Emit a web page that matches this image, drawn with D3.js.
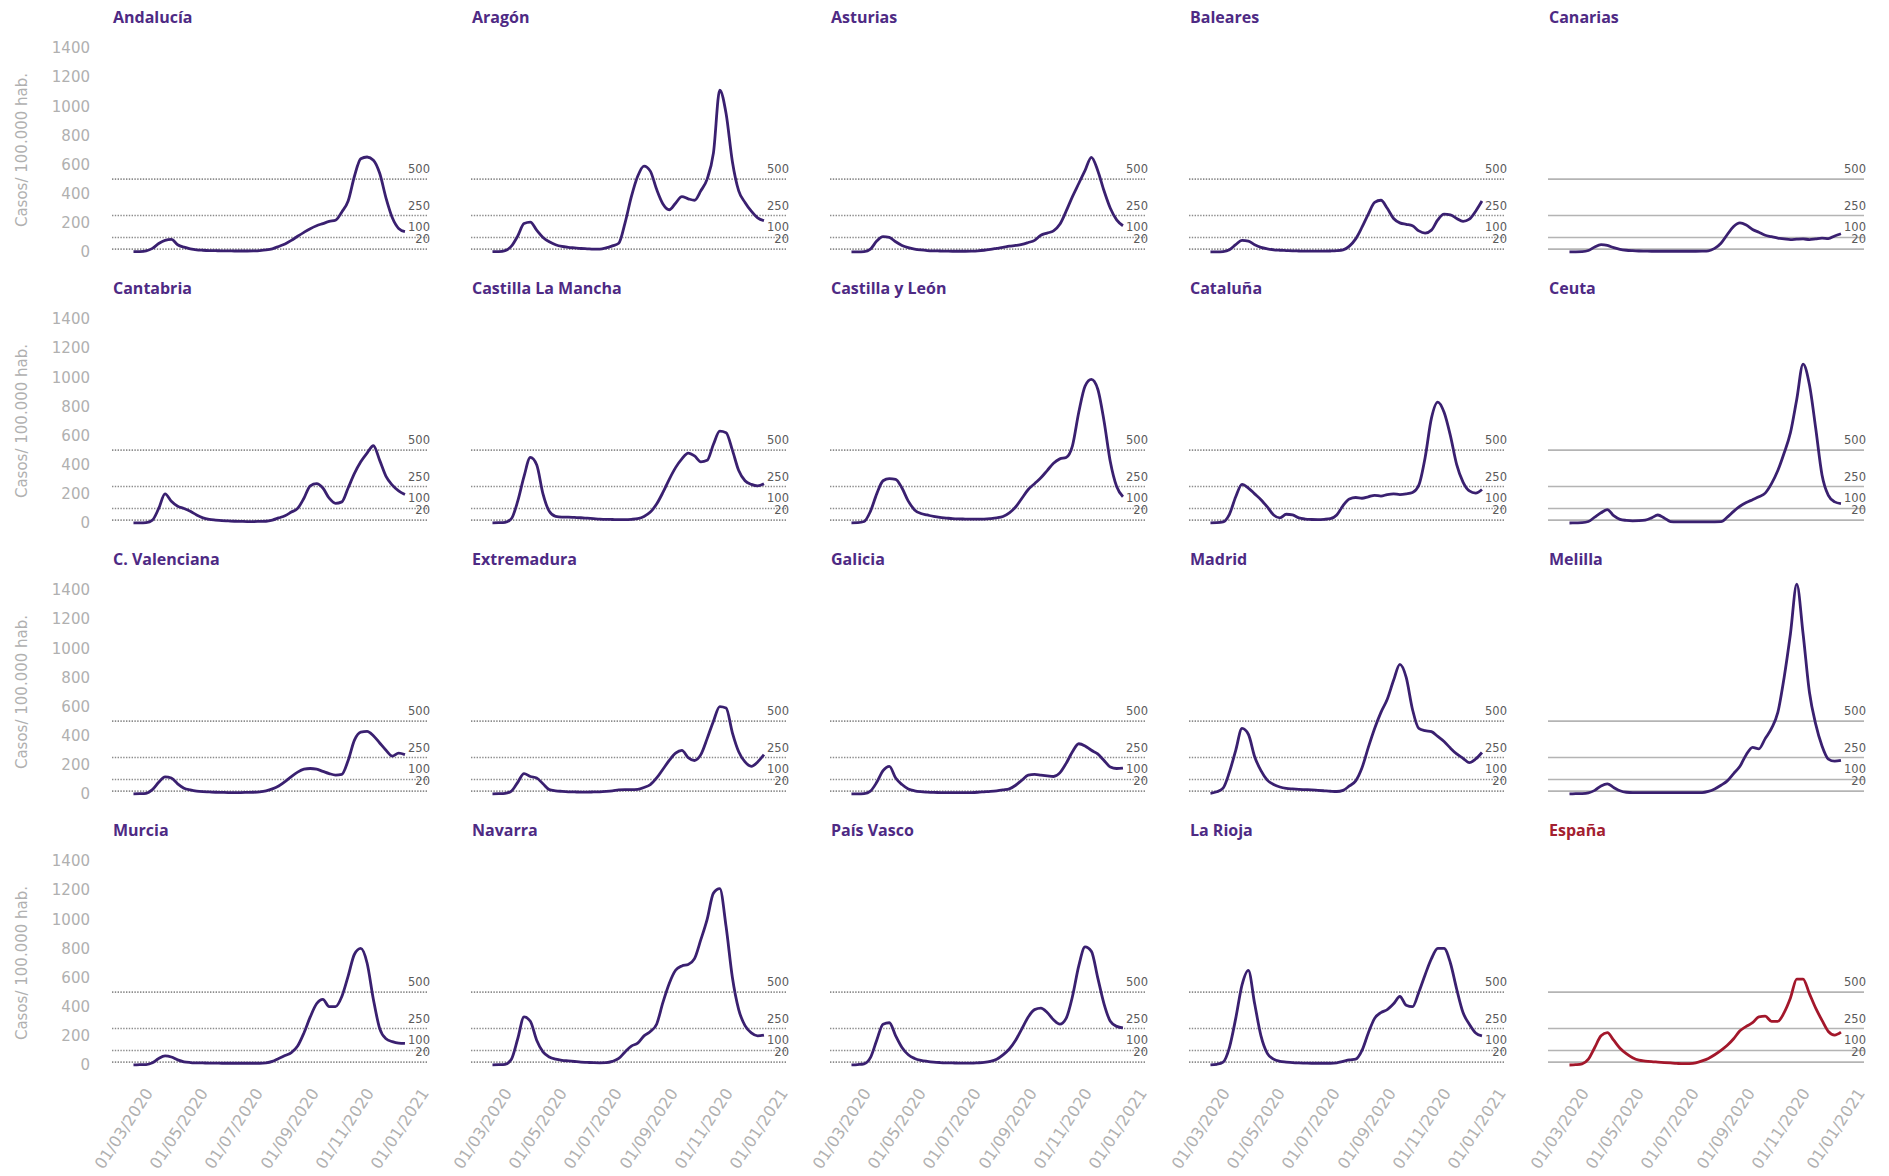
<!DOCTYPE html>
<html><head><meta charset="utf-8">
<script src="https://cdn.jsdelivr.net/npm/d3@7"></script>
<style>body{margin:0;background:#fff;} svg{display:block;}</style>
</head><body>
<svg id="chart" width="1889" height="1176"></svg>
<script>
// ---------- DATA ----------
const regions = ["Andalucía","Aragón","Asturias","Baleares","Canarias",
  "Cantabria","Castilla La Mancha","Castilla y León","Cataluña","Ceuta",
  "C. Valenciana","Extremadura","Galicia","Madrid","Melilla",
  "Murcia","Navarra","País Vasco","La Rioja","España"];

const dates = ["2020-02-15","2020-02-22","2020-02-29","2020-03-07","2020-03-14","2020-03-21","2020-03-28",
  "2020-04-04","2020-04-11","2020-04-18","2020-04-25","2020-05-02","2020-05-09","2020-05-16","2020-05-23","2020-05-30",
  "2020-06-06","2020-06-13","2020-06-20","2020-06-27","2020-07-04","2020-07-11","2020-07-18","2020-07-25",
  "2020-08-01","2020-08-08","2020-08-15","2020-08-22","2020-08-29","2020-09-05","2020-09-12","2020-09-19","2020-09-26",
  "2020-10-03","2020-10-10","2020-10-17","2020-10-24","2020-10-31","2020-11-07","2020-11-14","2020-11-21","2020-11-28",
  "2020-12-05","2020-12-12"];

const andalucia = [2,3,8,25,58,80,86,50,33,22, 15,12,10,9,8,8,7,7,7,8, 10,14,22,38,55,80,108,135,160,180, 195,210,218,275,350,520,640,652,630,540, 370,235,162,140];
const aragon = [2,3,10,40,110,195,205,150,100,70, 50,38,32,28,24,22,20,20,28,42, 60,200,380,520,590,555,430,330,290,335, 380,365,355,420,500,680,1110,950,620,420, 340,280,235,215];
const asturias = [1,1,3,20,75,105,100,70,45,30, 20,14,10,8,7,6,5,5,5,6, 8,12,18,25,32,40,45,52,65,80, 115,130,145,190,280,380,470,560,650,560, 420,300,220,180];
const baleares = [1,1,3,15,50,80,75,50,32,22, 15,12,10,8,7,6,6,6,6,7, 9,14,40,90,170,260,340,355,300,230, 200,190,180,145,130,150,220,260,255,230, 210,225,280,350];
const canarias = [1,1,2,10,35,50,45,30,18,12, 9,7,6,5,5,5,5,5,5,5, 5,6,8,25,60,120,175,200,185,155, 135,115,105,95,90,85,88,90,85,90, 95,92,110,125];
const cantabria = [1,1,3,20,100,200,150,115,100,80, 55,35,25,20,16,14,12,11,10,10, 11,12,20,35,50,75,100,170,255,270, 240,170,135,145,240,340,420,480,530,430, 320,260,220,195];
const castillaLaMancha = [1,2,5,30,150,320,450,400,200,80, 45,40,40,38,36,33,30,27,25,24, 23,23,25,30,45,75,130,210,300,380, 440,480,460,420,430,540,630,620,500,360, 290,265,255,270];
const castillaYLeon = [1,2,10,80,200,290,305,300,240,150, 90,65,55,45,38,34,30,28,27,26, 26,27,30,35,45,70,110,170,230,270, 310,360,410,440,450,530,760,940,985,920, 700,420,250,180];
const cataluna = [1,2,8,60,180,265,240,200,160,110, 55,35,60,55,35,27,24,23,25,30, 55,120,165,175,170,180,190,185,195,200, 195,200,210,260,450,720,830,760,600,400, 280,220,205,230];
const ceuta = [0,1,2,10,40,70,92,50,25,18, 15,16,20,35,55,35,10,8,8,8, 8,8,8,8,9,40,80,115,140,160, 180,205,270,360,480,620,850,1090,950,650, 330,190,145,133];
const cValenciana = [1,2,5,30,80,118,110,70,40,28, 20,16,14,12,11,10,10,10,11,12, 15,22,35,55,85,120,150,170,175,170, 155,140,130,135,230,370,425,430,400,350, 300,260,280,270];
const extremadura = [1,2,4,20,80,140,120,110,70,30, 22,18,15,14,13,13,14,15,18,22, 28,30,30,32,45,65,110,170,230,280, 300,250,230,270,380,500,600,590,420,290, 220,190,220,270];
const galicia = [1,1,3,20,80,160,190,110,65,35, 22,16,13,11,10,9,9,9,9,10, 12,15,18,22,28,35,60,95,130,135, 130,125,120,145,210,290,345,330,300,275, 230,185,175,178];
const madrid = [5,15,40,150,300,450,410,256,160,95, 65,48,39,35,32,30,28,25,22,19, 17,25,55,90,180,320,450,560,650,780, 890,800,580,450,435,428,395,360,315,275, 245,215,240,285];
const melilla = [1,2,3,8,25,55,70,45,22,12, 10,10,10,10,10,10,10,10,10,10, 10,10,18,35,60,90,140,190,270,320, 310,380,450,560,800,1100,1440,1100,700,480, 330,240,225,230];
const murcia = [1,2,3,15,45,62,55,35,22,17, 15,14,13,13,12,12,12,12,12,12, 12,15,25,45,65,85,130,220,330,420, 450,400,400,470,610,760,800,700,450,250, 180,160,150,148];
const navarra = [1,2,5,40,180,330,300,170,90,55, 40,32,28,24,20,18,16,15,16,25, 45,90,130,150,200,230,280,430,560,650, 680,690,730,860,1000,1180,1210,950,600,380, 270,220,200,205];
const paisVasco = [1,3,8,50,170,280,290,200,120,70, 45,32,25,20,17,15,14,13,13,13, 15,18,25,40,70,110,170,250,330,380, 390,360,310,280,320,470,680,810,780,600, 420,300,265,255];
const laRioja = [1,5,20,120,320,550,650,420,200,80, 40,25,20,16,14,13,12,12,12,12, 15,25,35,40,100,220,320,360,380,420, 470,410,400,500,620,730,800,800,700,520, 360,280,220,200];
const espana = [0,2,8,40,120,200,222,170,115,78, 50,33,27,23,20,17,14,11,9,10, 15,28,45,70,100,135,180,235,265,290, 330,335,300,300,360,460,590,590,490,390, 306,230,205,225];

const series = [andalucia, aragon, asturias, baleares, canarias,
  cantabria, castillaLaMancha, castillaYLeon, cataluna, ceuta,
  cValenciana, extremadura, galicia, madrid, melilla,
  murcia, navarra, paisVasco, laRioja, espana];

const yTicks = [0,200,400,600,800,1000,1200,1400];
const refLines = [500,250,100,20];
const xTickLabels = ["01/03/2020","01/05/2020","01/07/2020","01/09/2020","01/11/2020","01/01/2021"];
const yTitle = "Casos/ 100.000 hab.";

// ---------- LAYOUT ----------
const colW = 359, rowH = 271, left0 = 112, base0 = 252;
const purpleTitle = "#4e2a84", purpleLine = "#3a2070";
const redTitle = "#a3202f", redLine = "#a3172b";

const svg = d3.select("#chart");
const parseDate = d3.timeParse("%Y-%m-%d");
const parseTick = d3.timeParse("%d/%m/%Y");
const tickDates = xTickLabels.map(parseTick);

const x = d3.scaleTime().domain([tickDates[0], tickDates[tickDates.length-1]]).range([35, 311]);
const y = d3.scaleLinear().domain([0, 1400]).range([0, -204]);

const line = d3.line().x(d => x(d.date)).y(d => y(d.v)).curve(d3.curveMonotoneX);

regions.forEach((name, k) => {
  const c = k % 5, r = Math.floor(k / 5);
  const g = svg.append("g").attr("transform", `translate(${left0 + c*colW},${base0 + r*rowH})`);
  const isSpain = name === "España";
  const solid = c === 4;

  // reference lines
  refLines.forEach(v => {
    g.append("line")
      .attr("x1", 0).attr("x2", 316)
      .attr("y1", y(v)).attr("y2", y(v))
      .attr("stroke", solid ? "#b4b4b4" : "#8c8c8c")
      .attr("stroke-width", 1.6)
      .attr("stroke-dasharray", solid ? null : "1.4 1.4");
    g.append("text")
      .attr("x", 318).attr("y", y(v) - 6)
      .attr("text-anchor", "end")
      .attr("font-family", "DejaVu Sans")
      .attr("font-size", 11.5)
      .attr("fill", "#5a5a5a")
      .text(v);
  });

  // series line
  const data = dates.map((d, i) => ({date: parseDate(d), v: series[k][i]}));
  g.append("path").datum(data)
    .attr("d", line)
    .attr("fill", "none")
    .attr("stroke", isSpain ? redLine : purpleLine)
    .attr("stroke-width", 2.8)
    .attr("stroke-linejoin", "round");

  // title
  g.append("text")
    .attr("x", 1).attr("y", -229)
    .attr("font-family", "Open Sans")
    .attr("font-weight", 700)
    .attr("font-size", 16)
    .attr("fill", isSpain ? redTitle : purpleTitle)
    .text(name);

  // y axis on first column
  if (c === 0) {
    const ya = g.append("g").call(d3.axisLeft(y).tickValues(yTicks).tickSize(0).tickPadding(22).tickFormat(d3.format("d")));
    ya.select(".domain").remove();
    ya.selectAll("text")
      .attr("font-family", "DejaVu Sans")
      .attr("font-size", 15)
      .attr("fill", "#b0b0b0");
    g.append("text")
      .attr("transform", `translate(-85,${y(700)}) rotate(-90)`)
      .attr("text-anchor", "middle")
      .attr("font-family", "DejaVu Sans")
      .attr("font-size", 15)
      .attr("fill", "#b0b0b0")
      .text(yTitle);
  }

  // x axis on last row
  if (r === 3) {
    const xa = g.append("g").call(d3.axisBottom(x).tickValues(tickDates).tickSize(0).tickFormat(d3.timeFormat("%d/%m/%Y")));
    xa.select(".domain").remove();
    xa.selectAll("text")
      .attr("x", 0).attr("y", 0).attr("dy", 0)
      .attr("text-anchor", "end")
      .attr("transform", "translate(6,28) rotate(-57)")
      .attr("font-family", "DejaVu Sans")
      .attr("font-size", 16)
      .attr("fill", "#b0b0b0");
  }
});
</script>
</body></html>
